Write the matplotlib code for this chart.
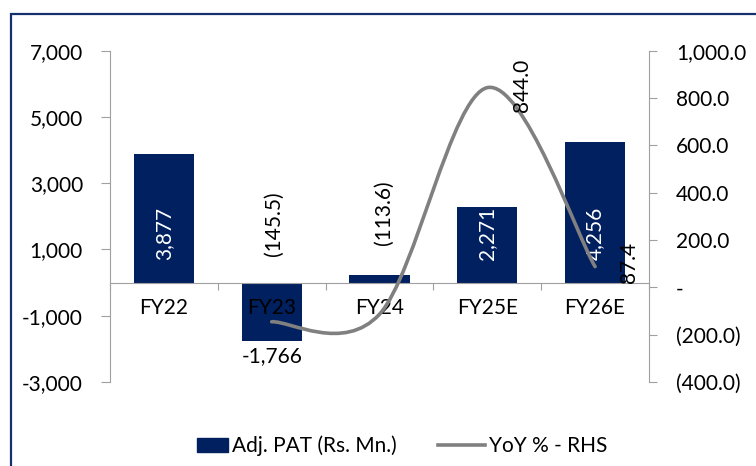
import matplotlib
matplotlib.use('Agg')
import matplotlib.pyplot as plt
from matplotlib.path import Path
from matplotlib.patches import PathPatch, Rectangle, Patch
from matplotlib.lines import Line2D
from matplotlib.ticker import FuncFormatter, NullFormatter
import numpy as np

# data
years = ['FY22', 'FY23', 'FY24', 'FY25E', 'FY26E']
adj_pat = [3877, -1766, 240, 2271, 4256]
show_pat_label = [True, True, False, True, True]
yoy = [np.nan, -145.5, -113.6, 844.0, 87.4]

# label offsets in points (dx, dy), styling only
yoy_offsets = [None, (1.4, 70.6), (2.9, 73.4), (25.2, 1.4), (24.5, 2.9)]

NAVY = '#002060'
GREY_LINE = '#808080'
SPINE = '#a0a0a0'

plt.rcParams['font.family'] = ['Lato', 'DejaVu Sans']
FS = 15

fig = plt.figure(figsize=(7.56, 4.66), dpi=100)
ax = fig.add_axes([110 / 756, 1 - 382 / 466, (649 - 110) / 756, (382 - 50.7) / 466])
ax2 = ax.twinx()

x = np.arange(len(years))
ax.bar(x, adj_pat, width=0.56, color=NAVY, zorder=2)
# category labels sit on top of the bars, as in the original
ax.set_axisbelow(False)

ax.set_xlim(-0.5, len(years) - 0.5)
ax.set_ylim(-3000, 7000)
ax.set_yticks(np.arange(-3000, 7001, 2000))
ax.yaxis.set_major_formatter(FuncFormatter(lambda v, p: f'{v:,.0f}'))

def rhs_fmt(v, p):
    if abs(v) < 1e-9:
        return '-'
    if v < 0:
        return f'({abs(v):,.1f})'
    return f'{v:,.1f}'

ax2.set_ylim(-400, 1000)
ax2.set_yticks(np.arange(-400, 1001, 200))
ax2.yaxis.set_major_formatter(FuncFormatter(rhs_fmt))

# spines
for s in ['top', 'right']:
    ax.spines[s].set_visible(False)
for s in ['top', 'left', 'bottom']:
    ax2.spines[s].set_visible(False)
ax.spines['left'].set_color(SPINE)
ax.spines['bottom'].set_color(SPINE)
ax.spines['bottom'].set_position(('data', 0))
ax2.spines['right'].set_color(SPINE)

# x ticks between categories, labels at centres
ax.set_xticks(np.arange(-0.5, len(years), 1))
ax.xaxis.set_major_formatter(NullFormatter())
ax.set_xticks(x, minor=True)
ax.set_xticklabels(years, minor=True)
ax.tick_params(axis='x', which='major', direction='out', length=5, color=SPINE)
ax.tick_params(axis='x', which='minor', length=0, pad=11, labelsize=FS)
ax.tick_params(axis='y', direction='out', length=6.5, pad=13, color=SPINE, labelsize=FS)
ax2.tick_params(axis='y', direction='out', length=5.5, pad=14, color=SPINE, labelsize=FS)

# bar labels
for xi, v, show in zip(x, adj_pat, show_pat_label):
    if not show:
        continue
    if v >= 0:
        ax.annotate(f'{v:,}', (xi, 0), xytext=(0, 16.6), textcoords='offset points',
                    rotation=90, ha='center', va='bottom', color='white', fontsize=FS, zorder=4)
    else:
        ax.annotate(f'{v:,}', (xi, v), xytext=(0, -10.8), textcoords='offset points',
                    ha='center', va='center', color='black', fontsize=FS)

# smoothed YoY line (Catmull-Rom as Bezier curves, like Excel's smooth line)
pts = [(xi, v) for xi, v in zip(x, yoy) if not np.isnan(v)]
pts = np.array(pts, dtype=float)
ext = np.vstack([pts[0], pts, pts[-1]])
verts = [tuple(pts[0])]
codes = [Path.MOVETO]
for i in range(1, len(ext) - 2):
    p0, p1, p2, p3 = ext[i - 1], ext[i], ext[i + 1], ext[i + 2]
    c1 = p1 + (p2 - p0) / 6
    c2 = p2 - (p3 - p1) / 6
    verts += [tuple(c1), tuple(c2), tuple(p2)]
    codes += [Path.CURVE4] * 3
ax2.add_patch(PathPatch(Path(verts, codes), facecolor='none', edgecolor=GREY_LINE,
                        linewidth=2.6, capstyle='round', zorder=3))

for xi, v, off in zip(x, yoy, yoy_offsets):
    if np.isnan(v):
        continue
    txt = f'({abs(v):.1f})' if v < 0 else f'{v:.1f}'
    ax2.annotate(txt, (xi, v), xytext=off, textcoords='offset points',
                 rotation=90, ha='center', va='center', color='black', fontsize=FS)

# legend
leg_y = 1 - 446 / 466
fig.legend(handles=[Patch(color=NAVY)], labels=['Adj. PAT (Rs. Mn.)'],
           loc='center left', bbox_to_anchor=(197 / 756, leg_y), frameon=False,
           borderpad=0, borderaxespad=0, handlelength=1.5, handleheight=0.6,
           handletextpad=0.2, fontsize=FS)
fig.legend(handles=[Line2D([], [], color=GREY_LINE, linewidth=2.6)], labels=['YoY % - RHS'],
           loc='center left', bbox_to_anchor=(438 / 756, leg_y), frameon=False,
           borderpad=0, borderaxespad=0, handlelength=2.26,
           handletextpad=0.2, fontsize=FS)

# outer frame
fig.add_artist(Rectangle((11 / 756, -0.1), 1.2, 1 - 14 / 466 + 0.1, transform=fig.transFigure,
                         fill=False, edgecolor='#14306e', linewidth=1.6))

fig.savefig('out.png', dpi=100)
